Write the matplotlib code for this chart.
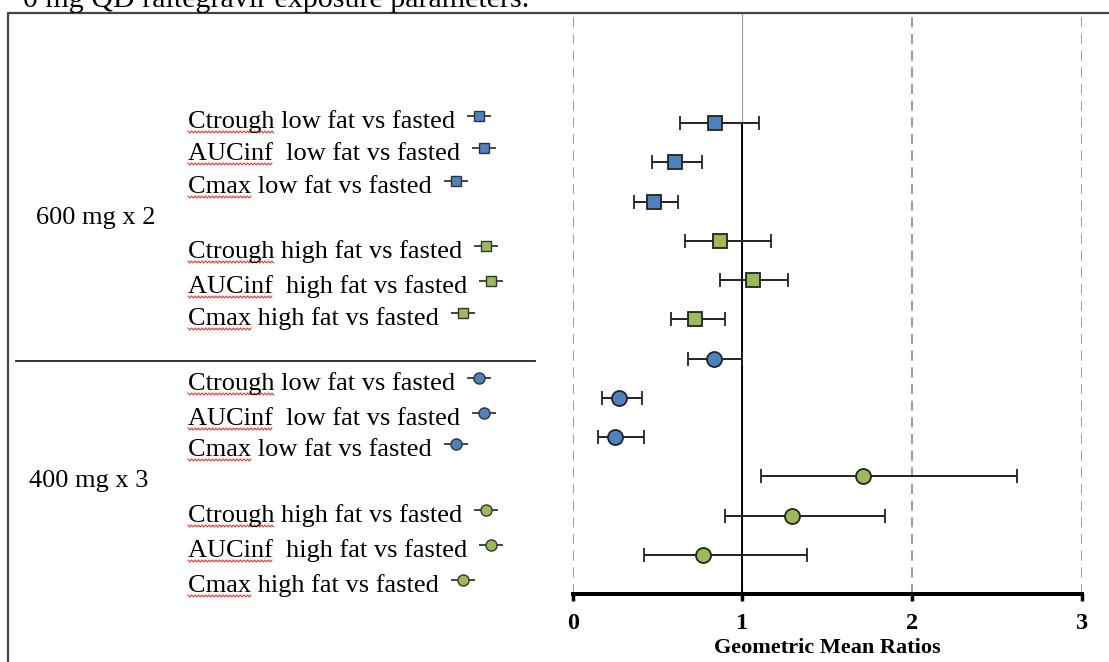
import numpy as np
import matplotlib
matplotlib.use("Agg")
import matplotlib.pyplot as plt

plt.rcParams['font.family'] = ['Liberation Serif', 'DejaVu Serif']

# Geometric mean ratios with 90% CI, fed vs fasted
labels_600 = ["Ctrough low fat vs fasted", "AUCinf  low fat vs fasted", "Cmax low fat vs fasted",
              "Ctrough high fat vs fasted", "AUCinf  high fat vs fasted", "Cmax high fat vs fasted"]
labels_400 = labels_600
gmr_600 = [0.84, 0.60, 0.48, 0.87, 1.06, 0.72]
lo_600 = [0.63, 0.47, 0.36, 0.66, 0.87, 0.58]
hi_600 = [1.10, 0.76, 0.62, 1.17, 1.27, 0.90]
gmr_400 = [0.83, 0.27, 0.25, 1.71, 1.29, 0.77]
lo_400 = [0.68, 0.17, 0.15, 1.11, 0.90, 0.42]
hi_400 = [1.00, 0.41, 0.42, 2.62, 1.84, 1.38]
diets = ["low", "low", "low", "high", "high", "high"]
doses = ["600 mg x 2", "400 mg x 3"]
xticks = [0, 1, 2, 3]

BLUE = '#4F81BD'
GREEN = '#9BBB59'
diet_color = {"low": BLUE, "high": GREEN}

W, H = 1109, 662
fig = plt.figure(figsize=(W / 100, H / 100), dpi=100)

# background axes in pixel coordinates for the text panel on the left
bg = fig.add_axes([0, 0, 1, 1], zorder=0)
bg.set_xlim(0, W)
bg.set_ylim(H, 0)
bg.axis('off')

# frame and caption
bg.plot([8, 8, W + 10], [H + 10, 13, 13], color='#444444', lw=1.6, solid_capstyle='butt')
bg.text(529, 7, "0 mg QD raltegravir exposure parameters.", ha='right', va='baseline',
        fontsize=21.6, color='black')
bg.plot([16, 535], [361, 361], color='#222222', lw=1.3)

# forest plot axes
x0, x1 = 572.7, 1081.7
ytop, ybot = 14, 594
ax = fig.add_axes([x0 / W, (H - ybot) / H, (x1 - x0) / W, (ybot - ytop) / H], zorder=1)
ax.patch.set_alpha(0)
row_px = 39.25
ax.set_xlim(0, 3)
ax.set_ylim(13, 1 - (123.3 - ytop) / row_px)

for g in [0, 2, 3]:
    ax.axvline(g, color='#8c8c8c', lw=1.2, dashes=(6, 4), zorder=0)
ax.axvline(1, color='#9a9a9a', lw=0.8, zorder=0)
ax.vlines(1, 1, 13, color='black', lw=1.4, zorder=1)

rows = np.arange(1, 13)
for i, (gmr, lo, hi, mk, ms) in enumerate([(gmr_600, lo_600, hi_600, 's', 10),
                                           (gmr_400, lo_400, hi_400, 'o', 10.8)]):
    for j in range(6):
        y = rows[i * 6 + j]
        ax.errorbar(gmr[j], y, xerr=[[gmr[j] - lo[j]], [hi[j] - gmr[j]]], fmt=mk, ms=ms,
                    mfc=diet_color[diets[j]], mec='#222222', mew=1.3, ecolor='#222222',
                    elinewidth=1.4, capsize=5, capthick=1.4, zorder=3)

for s in ['left', 'right', 'top']:
    ax.spines[s].set_visible(False)
ax.spines['bottom'].set_linewidth(2.9)
ax.set_yticks([])
ax.set_xticks(xticks)
ax.set_xticklabels([str(t) for t in xticks], fontsize=17.5, fontweight='bold')
ax.tick_params(axis='x', direction='out', length=5, width=2.5, pad=9)
ax.set_xlabel("Geometric Mean Ratios", fontsize=16, fontweight='bold')
ax.xaxis.set_label_coords(0.5, (ybot - 648) / (ybot - ytop))
ax.xaxis.label.set_va('center')

# left-hand labels with their legend keys
bg.text(36, 224, doses[0], fontsize=19, va='baseline')
bg.text(29, 487, doses[1], fontsize=19, va='baseline')
base_600 = [128, 160, 193, 258, 293, 325]
base_400 = [390, 425, 456, 522, 557, 592]

fig.canvas.draw()
renderer = fig.canvas.get_renderer()


def squiggle(xa, xb, y):
    xs = np.arange(xa, xb + 0.1, 1.75)
    ys = y + np.where(np.arange(len(xs)) % 2 == 0, -1.0, 1.0)
    bg.plot(xs, ys, color='#e23a3a', lw=0.8)


for labels, bases, mk, ms in [(labels_600, base_600, 's', 7.5), (labels_400, base_400, 'o', 8)]:
    for j, (lab, b) in enumerate(zip(labels, bases)):
        t = bg.text(188, b, lab, fontsize=19, va='baseline')
        ext = t.get_window_extent(renderer)
        word = bg.text(188, b, lab.split()[0], fontsize=19, va='baseline')
        wext = word.get_window_extent(renderer)
        word.remove()
        squiggle(wext.x0, wext.x1, b + 4)
        cx = ext.x1 + 24
        cy = b - 12
        bg.plot([cx - 11, cx + 11], [cy, cy], color='#444444', lw=1.4)
        bg.plot(cx, cy, marker=mk, ms=ms, mfc=diet_color[diets[j]], mec='#333333', mew=1.0)

fig.savefig("out.png", dpi=100)
